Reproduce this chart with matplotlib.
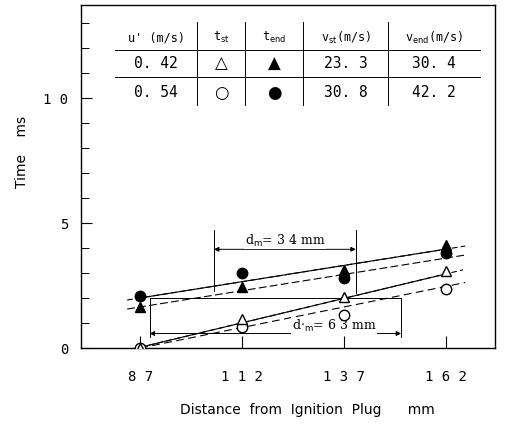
import numpy as np
import matplotlib
matplotlib.use("Agg")
from matplotlib import pyplot as plt

# measuring positions (mm) and times (ms)
distance = [87, 112, 137, 162]
t_st_042 = [0.0, 1.16, 2.04, 3.10]    # open triangle
t_end_042 = [1.64, 2.45, 3.12, 4.12]  # filled triangle
t_st_054 = [0.0, 0.85, 1.32, 2.36]    # open circle
t_end_054 = [2.08, 3.00, 2.80, 3.80]  # filled circle

# fitted lines, (x0, x1) and (y0, y1)
line_end_a = ([83.8, 166.7], [1.92, 4.08])   # solid
line_end_b = ([83.8, 166.7], [1.56, 3.72])   # dashed
line_st_a = ([87.0, 166.2], [0.03, 3.13])    # solid
line_st_b = ([87.0, 166.7], [0.0, 2.62])     # dashed

# table contents
col_heads = ["u' (m/s)", r"t$_{\rm st}$", r"t$_{\rm end}$",
             r"v$_{\rm st}$(m/s)", r"v$_{\rm end}$(m/s)"]
row_042 = ["0. 42", "\u25b3", "\u25b2", "23. 3", "30. 4"]
row_054 = ["0. 54", "\u25cb", "\u25cf", "30. 8", "42. 2"]

mono = "DejaVu Sans Mono"
plt.rcParams["mathtext.fontset"] = "dejavusans"

fig = plt.figure(figsize=(5.07, 4.32), dpi=100)
ax = fig.add_axes([0.160, 0.1944, 0.816, 0.7936])

k = "black"
lw = 0.8


def seg(line, style, full_style=None):
    xs, ys = line
    if full_style:
        ax.plot(xs, ys, color=k, lw=lw, ls=full_style)
        # solid part only between the measuring points
        slope = (ys[1] - ys[0]) / (xs[1] - xs[0])
        xa, xb = max(xs[0], distance[0]), min(xs[1], distance[-1])
        ax.plot([xa, xb], [ys[0] + slope * (xa - xs[0]), ys[0] + slope * (xb - xs[0])],
                color=k, lw=lw, ls=style)
    else:
        ax.plot(xs, ys, color=k, lw=lw, ls=style)


seg(line_end_a, "-", (0, (5, 3)))
seg(line_end_b, (0, (7, 3)))
seg(line_st_a, "-", (0, (5, 3)))
seg(line_st_b, (0, (7, 4)))

ms = 7.5
ax.plot(distance, t_st_042, "^", mfc="white", mec=k, mew=1.0, ms=ms, zorder=5)
ax.plot(distance, t_st_054, "o", mfc="white", mec=k, mew=1.0, ms=ms, zorder=4)
ax.plot(distance, t_end_042, "^", mfc=k, mec=k, ms=ms, zorder=5)
ax.plot(distance, t_end_054, "o", mfc=k, mec=k, ms=ms, zorder=5)

# d_m = 34 mm bracket
ax.plot([105.1, 105.1], [4.72, 2.3], color=k, lw=0.7)
ax.plot([139.9, 139.9], [4.72, 2.2], color=k, lw=0.7)
ax.annotate("", xy=(105.1, 3.95), xytext=(139.9, 3.95),
            arrowprops=dict(arrowstyle="<|-|>", color=k, lw=0.7,
                            mutation_scale=7, shrinkA=0, shrinkB=0))
ax.text(122.5, 3.98, r"d$_{\rm m}$= 3 4 mm", ha="center", va="bottom",
        fontsize=9, family="DejaVu Serif",
        bbox=dict(fc="white", ec="none", pad=0.5))

# d_m = 63 mm bracket
ax.plot([89.3, 151.0], [2.0, 2.0], color=k, lw=0.7)
ax.plot([89.3, 89.3], [2.0, 0.45], color=k, lw=0.7)
ax.plot([151.0, 151.0], [2.0, 0.45], color=k, lw=0.7)
ax.annotate("", xy=(89.3, 0.58), xytext=(151.0, 0.58),
            arrowprops=dict(arrowstyle="<|-|>", color=k, lw=0.7,
                            mutation_scale=7, shrinkA=0, shrinkB=0))
ax.text(134.5, 0.55, r"d$\cdot_{\rm m}$= 6 3 mm", ha="center", va="bottom",
        fontsize=9, family="DejaVu Serif",
        bbox=dict(fc="white", ec="none", pad=0.5))

# table in the top part of the axes
tr = ax.transAxes
col_x = [0.181, 0.338, 0.466, 0.640, 0.853]
for cx, txt in zip(col_x, col_heads):
    ax.text(cx, 0.905, txt, transform=tr, ha="center", va="center",
            fontsize=8.5, family=mono)
for row, yy in [(row_042, 0.830), (row_054, 0.745)]:
    for i, (cx, txt) in enumerate(zip(col_x, row)):
        fs = 12 if i in (1, 2) else 10.5
        ax.text(cx, yy, txt, transform=tr, ha="center", va="center",
                fontsize=fs, family=mono if i not in (1, 2) else "DejaVu Sans")
for yy in [0.869, 0.790]:
    ax.plot([0.082, 0.964], [yy, yy], transform=tr, color=k, lw=0.7)
for xx in [0.280, 0.396, 0.536, 0.742]:
    ax.plot([xx, xx], [0.950, 0.708], transform=tr, color=k, lw=0.7)

ax.set_xlim(72.5, 174.0)
ax.set_ylim(0, 13.72)
ax.set_xticks(distance)
ax.set_xticklabels(["8 7", "1 1 2", "1 3 7", "1 6 2"], family=mono, fontsize=10)
ax.set_yticks([0, 5, 10])
ax.set_yticklabels(["0", "5", "1 0"], family=mono, fontsize=10)
ax.set_yticks(np.arange(0, 14, 1), minor=True)
ax.tick_params(axis="x", direction="in", length=9, width=0.8, pad=16)
ax.tick_params(axis="y", which="major", direction="in", length=8, width=0.8, pad=9)
ax.tick_params(axis="y", which="minor", direction="in", length=6, width=0.7)
for sp in ax.spines.values():
    sp.set_linewidth(1.0)

fig.text(0.607, 1 - 410 / 432, "Distance  from  Ignition  Plug      mm",
         ha="center", va="center", fontsize=10)
fig.text(0.043, 1 - 152 / 432, "Time    ms", ha="center", va="center",
         rotation=90, fontsize=10)

fig.savefig("out.png", dpi=100)
